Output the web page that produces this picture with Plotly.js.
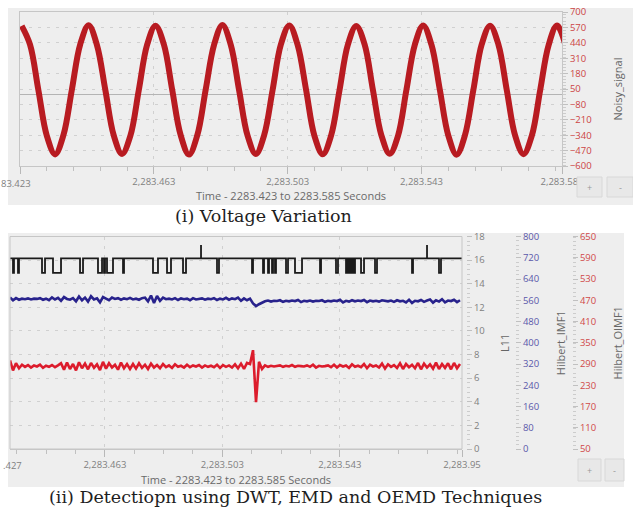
<!DOCTYPE html>
<html><head><meta charset="utf-8">
<script src="https://cdn.plot.ly/plotly-3.0.1.min.js"></script>
<style>html,body{margin:0;padding:0;background:#fff;}#chart{width:633px;height:508px;}</style>
</head><body><div id="chart"></div>
<script>
// ---------- Data: (i) Voltage Variation ----------
const noisyStart = 2283.4235, noisyStep = 0.0025;
const noisySignal = [
  583, 424, 40, -343, -502, -338, 44, 427,
  588, 421, 43, -340, -498, -344, 39, 424,
  584, 426, 41, -338, -503, -340, 45, 422,
  590, 423, 38, -342, -499, -337, 42, 428,
  586, 420, 44, -345, -501, -341, 40, 425,
  582, 427, 39, -339, -497, -343, 43, 423,
  587, 422, 42, -341, -504, -339, 41, 426,
  584, 425, 40, -344, -500, -342, 44, 421,
  585, 424
];
const topTickVals = [2283.423, 2283.463, 2283.503, 2283.543, 2283.585];
const topTickText = ['2,283.423', '2,283.463', '2,283.503', '2,283.543', '2,283.585'];

// ---------- Data: (ii) Detection ----------
const detStart = 2283.4307, detEnd = 2283.5846, detStep = 0.0010215;
const hilbertIMF1 = [
  570, 560, 568, 562, 566,
  564, 567, 563, 566, 565, 568, 562,
  566, 560, 571, 563, 569, 558, 572, 565,
  562, 568, 556, 574, 560, 570, 555, 575, 563, 567, 552, 572, 566, 560,
  570, 565, 568, 562, 567, 564, 569, 563, 566, 562, 568,
  570, 556, 578, 550, 576, 558, 570, 564,
  566, 563, 568, 561, 567, 564, 566, 560, 568, 563, 565, 567, 562, 566,
  564, 568, 561, 566, 563, 569, 562, 567, 564, 570, 558, 567, 560, 566,
  548, 538, 545, 552,
  556, 559, 555, 558, 557, 560, 554, 558, 556, 559, 557,
  561, 553, 558, 556, 559, 555, 558, 557, 560, 554, 558,
  556, 559, 557, 562, 552, 558, 555, 560, 556, 559, 557,
  561, 553, 559, 556, 558, 555, 560, 557, 556, 559, 554,
  560, 556, 558, 552, 562, 550, 558, 556, 561, 554, 559,
  563, 551, 560, 555, 564, 552, 559, 557, 562, 553, 560
];
const hilbertOIMF1 = [
  300, 272, 292, 278, 288,
  282, 287, 280, 286, 283, 288, 279, 285, 282, 287, 281, 286,
  292, 274, 294, 276, 290, 272, 295, 278, 291, 275, 293, 279, 289, 273, 296, 277, 292, 280, 288, 274, 294, 278, 290, 276,
  290, 277, 292, 279, 288, 276, 291, 280, 287, 278, 290, 281, 286, 279, 289, 282, 285, 280, 288, 281, 286, 283, 287, 280, 286, 282,
  285, 281, 288, 279, 287, 282, 286, 280, 289, 278, 291, 276, 293,
  290, 329, 182, 296, 276,
  286, 282, 285, 283, 284, 286, 282, 285, 283, 287, 282, 285, 284, 283, 286, 282, 288, 280, 285, 283, 284, 286,
  281, 288, 280, 287, 283, 286, 279, 289, 282, 285, 281, 290, 278, 288, 283, 286, 280, 291, 277, 289, 282, 287,
  279, 292, 276, 290, 281, 288, 278, 293, 275, 291, 280, 289, 277, 294, 276, 290, 279, 292, 275, 293, 278, 290
];
const l11Base = 16.15, l11Low = 14.92, l11High = 17.27;
const pulseStart = [2283.43172, 2283.43342, 2283.44160, 2283.44534, 2283.45454, 2283.46066, 2283.46271,
  2283.46373, 2283.46918, 2283.47939, 2283.48416, 2283.48961, 2283.50118, 2283.51310, 2283.51685,
  2283.51855, 2283.51991, 2283.52093, 2283.52468, 2283.52774, 2283.53626, 2283.54170, 2283.54511,
  2283.54579, 2283.54647, 2283.54715, 2283.54783, 2283.55022, 2283.55498, 2283.56758, 2283.57677];
const pulseEnd = [2283.43206, 2283.43376, 2283.44262, 2283.44807, 2283.45556, 2283.46203, 2283.46305,
  2283.46577, 2283.46952, 2283.48109, 2283.48552, 2283.49063, 2283.50186, 2283.51344, 2283.51719,
  2283.51889, 2283.52025, 2283.52127, 2283.52536, 2283.53013, 2283.53660, 2283.54238, 2283.54545,
  2283.54613, 2283.54681, 2283.54749, 2283.54817, 2283.55124, 2283.55566, 2283.56792, 2283.57745];
const spikeTimes = [2283.49574, 2283.57269];
const botTickVals = [2283.463, 2283.503, 2283.543, 2283.5846];
const botTickText = ['2,283.463', '2,283.503', '2,283.543', '2,283.95'];

// ---------- Build traces ----------
const tNoisy = noisySignal.map((_, i) => noisyStart + i * noisyStep);
const tDet = hilbertIMF1.map((_, i) => detStart + i * detStep);
const ev = [];
pulseStart.forEach((s, i) => ev.push({t: s, e: pulseEnd[i], p: true}));
spikeTimes.forEach(t => ev.push({t: t, p: false}));
ev.sort((a, b) => a.t - b.t);
const lx = [detStart], ly = [l11Base];
ev.forEach(e => {
  if (e.p) { lx.push(e.t, e.t, e.e, e.e); ly.push(l11Base, l11Low, l11Low, l11Base); }
  else { lx.push(e.t, e.t, e.t); ly.push(l11Base, l11High, l11Base); }
});
lx.push(detEnd); ly.push(l11Base);

const traces = [
  {x: tNoisy, y: noisySignal, xaxis: 'x', yaxis: 'y', mode: 'lines', name: 'Noisy_signal',
   line: {color: '#b81b21', width: 6, shape: 'spline'}},
  {x: lx, y: ly, xaxis: 'x2', yaxis: 'y2', mode: 'lines', name: 'L11',
   line: {color: '#1a1a1a', width: 1.8}},
  {x: tDet, y: hilbertIMF1, xaxis: 'x2', yaxis: 'y3', mode: 'lines', name: 'Hilbert_IMF1',
   line: {color: '#28228c', width: 2.6}},
  {x: tDet, y: hilbertOIMF1, xaxis: 'x2', yaxis: 'y4', mode: 'lines', name: 'Hilbert_OIMF1',
   line: {color: '#dc1c2c', width: 2.6}}
];

// ---------- Layout ----------
const W = 633, H = 508;
const fx = x => x / W, fy = y => 1 - y / H;
const tickFont = {family: 'Open Sans, DejaVu Sans, sans-serif', size: 9.5, color: '#808080'};
const gridCol = '#d0d0d0', lineCol = '#c6c6c6', gridDash = '3px,6px';
const capFont = {family: 'DejaVu Serif, Liberation Serif, serif', size: 17.5, color: '#1e1e1e'};

function xAx(domain, range, anchor, tv, tt, minorDt, titleText, standoff) {
  return {domain: domain, range: range, anchor: anchor, tickmode: 'array', tickvals: tv, ticktext: tt,
    ticks: 'outside', ticklen: 7, tickcolor: '#b8b8b8', showline: true, linecolor: lineCol, mirror: true,
    showgrid: true, gridcolor: gridCol, griddash: gridDash, zeroline: false, tickfont: tickFont,
    minor: {tickmode: 'linear', tick0: 2283.423, dtick: minorDt, ticks: 'outside', ticklen: 4, tickcolor: '#c0c0c0', showgrid: false},
    title: {text: titleText, font: {family: 'Open Sans, DejaVu Sans, sans-serif', size: 11, color: '#6a6a6a'}, standoff: standoff}};
}

function ann(x, y, text, font, xanchor) {
  return {xref: 'paper', yref: 'paper', x: fx(x), y: fy(y), xanchor: xanchor || 'center', yanchor: 'middle',
    text: text, showarrow: false, font: font};
}
const btnFont = {family: 'Open Sans, sans-serif', size: 9, color: '#999'};

const layout = {
  width: W, height: H, margin: {l: 0, r: 0, t: 0, b: 0}, showlegend: false,
  paper_bgcolor: '#ffffff', plot_bgcolor: '#f4f4f4',
  font: tickFont,
  xaxis: xAx([fx(20), fx(562)], [2283.423, 2283.585], 'y', topTickVals, topTickText, 0.008,
             'Time - 2283.423 to 2283.585 Seconds', 2),
  yaxis: {domain: [fy(166), fy(12)], range: [-600, 700], anchor: 'x', side: 'right',
    tickmode: 'linear', tick0: -600, dtick: 130, ticks: 'outside', ticklen: 5, tickcolor: '#c0c0c0',
    tickfont: {family: tickFont.family, size: 9.5, color: '#cc4444'},
    showline: true, linecolor: lineCol, mirror: true, showgrid: true, gridcolor: gridCol, griddash: gridDash,
    zeroline: true, zerolinecolor: '#b4b4b4', zerolinewidth: 1,
    minor: {dtick: 26, ticks: 'outside', ticklen: 3, tickcolor: '#cccccc', showgrid: false},
    title: {text: 'Noisy_signal', font: {family: tickFont.family, size: 11, color: '#666'}, standoff: 23}},
  xaxis2: xAx([fx(10), fx(462)], [detStart, detEnd], 'y2', botTickVals, botTickText, 0.01,
              'Time - 2283.423 to 2283.585 Seconds', 5),
  yaxis2: {domain: [fy(449), fy(236.5)], range: [0, 18], anchor: 'free', position: fx(466), side: 'right',
    tickmode: 'linear', tick0: 0, dtick: 2, ticks: 'outside', ticklen: 5, tickcolor: '#c0c0c0',
    tickfont: tickFont, showline: false, showgrid: true, gridcolor: gridCol, griddash: gridDash, zeroline: false,
    minor: {dtick: 0.4, ticks: 'outside', ticklen: 3, tickcolor: '#cccccc', showgrid: false},
    title: {text: 'L11', font: {family: tickFont.family, size: 11, color: '#666'}, standoff: 16}},
  yaxis3: {domain: [fy(449), fy(236.5)], range: [0, 800], overlaying: 'y2', anchor: 'free', position: fx(515), side: 'right',
    tickmode: 'linear', tick0: 0, dtick: 80, ticks: 'outside', ticklen: 5, tickcolor: '#c0c0c0',
    tickfont: {family: tickFont.family, size: 9.5, color: '#5a58aa'}, showline: false, showgrid: false, zeroline: false,
    minor: {dtick: 16, ticks: 'outside', ticklen: 3, tickcolor: '#cccccc'},
    title: {text: 'Hilbert_IMF1', font: {family: tickFont.family, size: 11, color: '#666'}, standoff: 19}},
  yaxis4: {domain: [fy(449), fy(236.5)], range: [50, 650], overlaying: 'y2', anchor: 'free', position: fx(572), side: 'right',
    tickmode: 'linear', tick0: 50, dtick: 60, ticks: 'outside', ticklen: 5, tickcolor: '#c0c0c0',
    tickfont: {family: tickFont.family, size: 9.5, color: '#d04848'}, showline: false, showgrid: false, zeroline: false,
    minor: {dtick: 12, ticks: 'outside', ticklen: 3, tickcolor: '#cccccc'},
    title: {text: 'Hilbert_OIMF1', font: {family: tickFont.family, size: 11, color: '#666'}, standoff: 19}},
  shapes: [
    {type: 'rect', xref: 'paper', yref: 'paper', x0: fx(8), x1: 1, y0: fy(205), y1: fy(8), fillcolor: '#eeeeee', line: {width: 0}, layer: 'below'},
    {type: 'rect', xref: 'paper', yref: 'paper', x0: fx(8), x1: fx(624), y0: fy(487), y1: fy(233), fillcolor: '#eeeeee', line: {width: 0}, layer: 'below'},
    {type: 'rect', xref: 'x2 domain', yref: 'y2 domain', x0: 0, x1: 1, y0: 0, y1: 1, line: {color: lineCol, width: 1}, layer: 'above'},
    {type: 'rect', xref: 'paper', yref: 'paper', x0: fx(577), x1: fx(602), y0: fy(197), y1: fy(177), fillcolor: '#e8e8e8', line: {color: '#d8d8d8', width: 1}},
    {type: 'rect', xref: 'paper', yref: 'paper', x0: fx(607), x1: fx(633), y0: fy(197), y1: fy(177), fillcolor: '#e8e8e8', line: {color: '#d8d8d8', width: 1}},
    {type: 'rect', xref: 'paper', yref: 'paper', x0: fx(578), x1: fx(601), y0: fy(481), y1: fy(459), fillcolor: '#e8e8e8', line: {color: '#d8d8d8', width: 1}},
    {type: 'rect', xref: 'paper', yref: 'paper', x0: fx(605), x1: fx(624), y0: fy(481), y1: fy(459), fillcolor: '#e8e8e8', line: {color: '#d8d8d8', width: 1}}
  ],
  annotations: [
    ann(263, 216, '(i) Voltage Variation', capFont),
    ann(295, 497, '(ii) Detectiopn using DWT, EMD and OEMD Techniques', capFont),
    ann(589.5, 187, '+', btnFont),
    ann(620, 187, '-', btnFont),
    ann(589.5, 470, '+', btnFont),
    ann(614.5, 470, '-', btnFont),
    ann(-1, 183, '83.423', tickFont, 'left'),
    ann(1, 465, '.427', tickFont, 'left')
  ]
};

Plotly.newPlot('chart', traces, layout, {displayModeBar: false, staticPlot: true});
</script></body></html>
